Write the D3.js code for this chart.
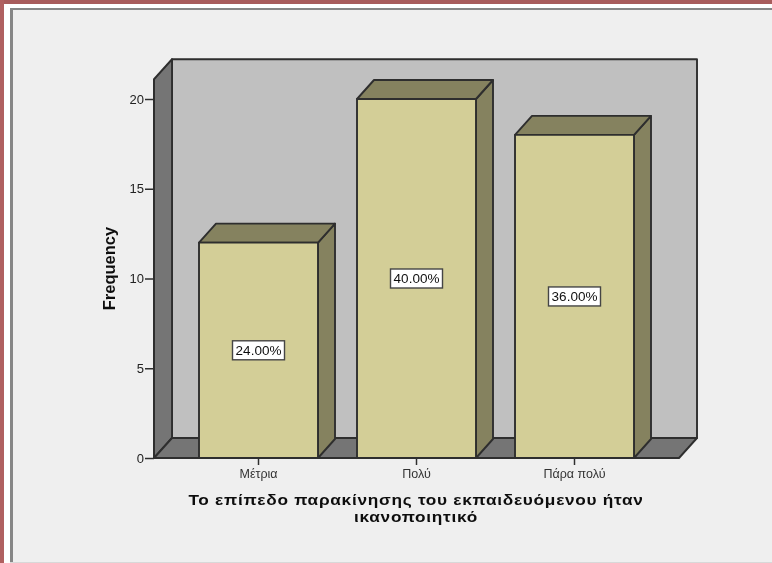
<!DOCTYPE html>
<html><head><meta charset="utf-8">
<script src="https://cdnjs.cloudflare.com/ajax/libs/d3/7.8.5/d3.min.js"></script>
<style>html,body{margin:0;padding:0;background:#fff;overflow:hidden}svg{display:block}</style>
</head><body><svg id="c" width="772" height="563"></svg>
<script>
const categories = ["Μέτρια", "Πολύ", "Πάρα πολύ"];
const frequencies = [12, 20, 18];
const percentLabels = ["24.00%", "40.00%", "36.00%"];
const yTicks = [0, 5, 10, 15, 20];
const yTitle = "Frequency";
const xTitleLines = ["Το επίπεδο παρακίνησης του εκπαιδευόμενου ήταν", "ικανοποιητικό"];

const svg = d3.select("#c");
const font = "'Liberation Sans', Arial, sans-serif";
const ink = "#2e2e2e";
const left = 154, right = 679, base = 458;
const wallDx = 18, wallDy = -20, barDx = 17, barDy = -19;
const y = d3.scaleLinear().domain([0, 20]).range([base, 99]);
const yMax = 21.1;
const x = d3.scaleBand().domain(categories).range([199, 634]).paddingInner(39 / 158).paddingOuter(0);
const poly = pts => d3.line()(pts) + "Z";

const defs = svg.append("defs");
defs.append("filter").attr("id","soft").attr("filterUnits","userSpaceOnUse")
  .attr("x",0).attr("y",0).attr("width",772).attr("height",563)
  .append("feGaussianBlur").attr("stdDeviation",0.6);

// page frame
svg.append("rect").attr("width",772).attr("height",563).attr("fill","#fff");
svg.append("rect").attr("x",13).attr("y",10).attr("width",759).attr("height",552).attr("fill","#efefef");
svg.append("rect").attr("x",10).attr("y",8).attr("width",762).attr("height",2).attr("fill","#868686");
svg.append("rect").attr("x",10).attr("y",8).attr("width",3).attr("height",554).attr("fill","#868686");
svg.append("rect").attr("x",10).attr("y",562).attr("width",762).attr("height",1).attr("fill","#d8d8d8");
svg.append("rect").attr("x",0).attr("y",0).attr("width",772).attr("height",4).attr("fill","#a85c5c");
svg.append("rect").attr("x",0).attr("y",0).attr("width",4).attr("height",563).attr("fill","#b06060");

const chart = svg.append("g").attr("filter","url(#soft)");
const g = chart.append("g").attr("stroke",ink).attr("stroke-width",1.9).attr("stroke-linejoin","round");
const yTop = y(yMax);
// back wall
g.append("path").attr("d",poly([[left+wallDx,yTop+wallDy],[right+wallDx,yTop+wallDy],[right+wallDx,base+wallDy],[left+wallDx,base+wallDy]])).attr("fill","#c0c0c0");
// left wall
g.append("path").attr("d",poly([[left,yTop],[left+wallDx,yTop+wallDy],[left+wallDx,base+wallDy],[left,base]])).attr("fill","#757575");
// floor
g.append("path").attr("d",poly([[left,base],[left+wallDx,base+wallDy],[right+wallDx,base+wallDy],[right,base]])).attr("fill","#757575");

// bars
const bars = g.selectAll("g.bar").data(categories).join("g").attr("class","bar");
bars.each(function(c,i){
  const b = d3.select(this), x0 = x(c), w = x.bandwidth(), t = y(frequencies[i]);
  b.append("path").attr("d",poly([[x0+w,t],[x0+w+barDx,t+barDy],[x0+w+barDx,base+barDy],[x0+w,base]])).attr("fill","#85825e");
  b.append("path").attr("d",poly([[x0,t],[x0+barDx,t+barDy],[x0+w+barDx,t+barDy],[x0+w,t]])).attr("fill","#85825e");
  b.append("rect").attr("x",x0).attr("y",t).attr("width",w).attr("height",base-t).attr("fill","#d3ce97");
});

// axes
const yAxis = d3.axisLeft(y).tickValues(yTicks).tickSize(9).tickPadding(1);
const ya = chart.append("g").attr("transform",`translate(${left},0)`).call(yAxis);
ya.select(".domain").attr("d",`M0,${yTop}V${base}`).attr("stroke",ink).attr("stroke-width",1.9);
ya.selectAll("line").attr("stroke",ink).attr("stroke-width",1.5);
ya.selectAll("text").attr("font-family",font).attr("font-size",13).attr("fill","#222");

const xAxis = d3.axisBottom(x).tickSize(7).tickPadding(4);
const xa = chart.append("g").attr("transform",`translate(0,${base})`).call(xAxis);
xa.select(".domain").attr("d",`M${left},0H${right}`).attr("stroke",ink).attr("stroke-width",1.9);
xa.selectAll("line").attr("stroke",ink).attr("stroke-width",1.5);
xa.selectAll("text").attr("font-family",font).attr("font-size",12.5).attr("fill","#333");

// percent labels
const lab = chart.append("g").selectAll("g").data(categories).join("g")
 .attr("transform",(c,i)=>`translate(${x(c)+x.bandwidth()/2},${y(frequencies[i]/2)})`);
lab.append("rect").attr("x",-26).attr("y",-9.5).attr("width",52).attr("height",19).attr("fill","#fff").attr("stroke","#444").attr("stroke-width",1.4);
lab.append("text").text((c,i)=>percentLabels[i]).attr("text-anchor","middle").attr("dy","0.36em").attr("font-family",font).attr("font-size",13.5).attr("fill","#111");

// titles
chart.append("text").text(yTitle).attr("transform",`translate(115,268.5) rotate(-90)`).attr("text-anchor","middle")
 .attr("font-family",font).attr("font-size",16.5).attr("font-weight","bold").attr("fill","#111");
chart.append("g").attr("transform","translate(416,0) scale(1.15,1)").append("text").selectAll("tspan").data(xTitleLines).join("tspan")
 .attr("x",0).attr("y",(d,i)=>505+i*17.5).attr("text-anchor","middle").text(d=>d)
 .attr("font-family",font).attr("font-size",15).attr("font-weight","bold").attr("letter-spacing",0.62).attr("fill","#111");
</script></body></html>
